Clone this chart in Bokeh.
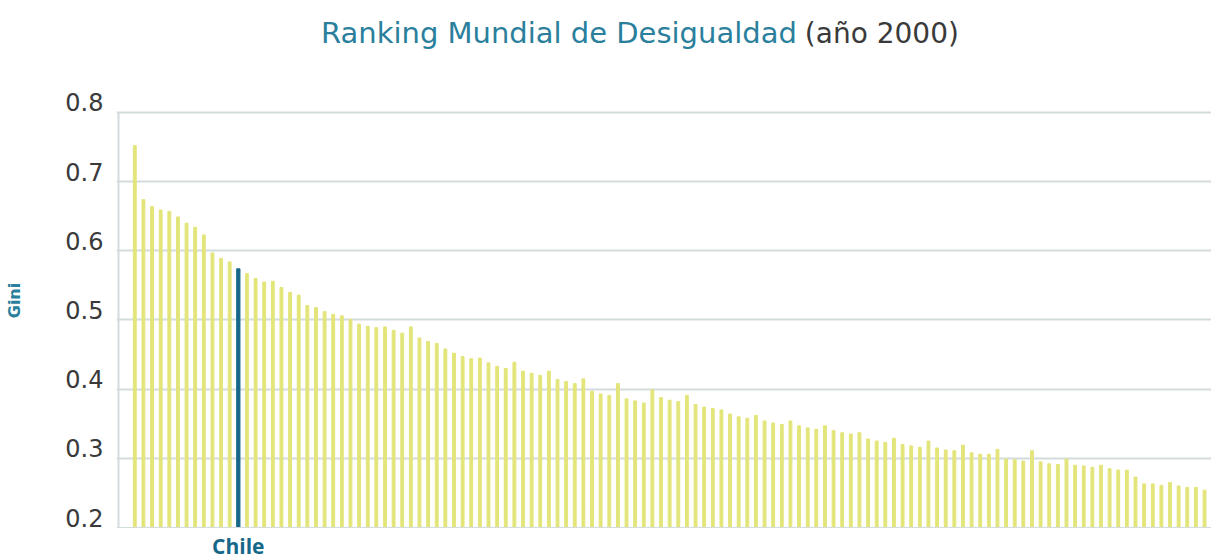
from bokeh.plotting import figure
from bokeh.models import Range1d, LinearAxis, FixedTicker, Div
from bokeh.layouts import column
from bokeh.embed import file_html
from bokeh.resources import INLINE

# ---- data ----
title_main = "Ranking Mundial de Desigualdad"
title_year = "(año 2000)"
y_axis_title = "Gini"
highlight_name = "Chile"
highlight_rank = 13

gini = [
    0.752, 0.674, 0.664, 0.659, 0.657, 0.649, 0.640, 0.634, 0.623, 0.597,
    0.589, 0.584, 0.574, 0.567, 0.560, 0.555, 0.556, 0.547, 0.540, 0.536,
    0.521, 0.518, 0.512, 0.508, 0.506, 0.501, 0.494, 0.491, 0.489, 0.490,
    0.485, 0.481, 0.490, 0.474, 0.469, 0.466, 0.458, 0.452, 0.447, 0.444,
    0.445, 0.438, 0.433, 0.430, 0.439, 0.426, 0.423, 0.420, 0.426, 0.414,
    0.411, 0.408, 0.415, 0.397, 0.393, 0.391, 0.408, 0.386, 0.383, 0.380,
    0.399, 0.388, 0.384, 0.382, 0.391, 0.378, 0.374, 0.372, 0.370, 0.364,
    0.360, 0.358, 0.362, 0.354, 0.351, 0.349, 0.354, 0.347, 0.344, 0.342,
    0.347, 0.340, 0.337, 0.335, 0.337, 0.328, 0.325, 0.323, 0.329, 0.320,
    0.318, 0.316, 0.325, 0.315, 0.312, 0.311, 0.319, 0.308, 0.306, 0.306,
    0.313, 0.299, 0.298, 0.296, 0.311, 0.295, 0.292, 0.291, 0.299, 0.290,
    0.289, 0.287, 0.290, 0.285, 0.283, 0.283, 0.273, 0.263, 0.263, 0.261,
    0.265, 0.260, 0.258, 0.258, 0.254,
]
y_ticks = [0.2, 0.3, 0.4, 0.5, 0.6, 0.7, 0.8]
y_tick_labels = ["0.2", "0.3", "0.4", "0.5", "0.6", "0.7", "0.8"]

# ---- styles ----
BAR = "#e3e57a"
HL = "#16688a"
TEAL = "#2a7f9c"
GRID = "#d3dcdc"
TXT = "#3a3a3a"

ranks = list(range(1, len(gini) + 1))
colors = [HL if r == highlight_rank else BAR for r in ranks]
widths = [0.38 if r == highlight_rank else 0.33 for r in ranks]

# geometry
PX_Y = 691.7          # pixels per Gini unit
LABEL_SHIFT = 10 / PX_Y
y_lo, y_hi = min(y_ticks), max(y_ticks) + 39 / PX_Y
x_lo, x_hi = -1.121, 125.81

title_div = Div(
    text=(f'<div style="margin-left:316px;margin-top:11px;line-height:34px;'
          f'white-space:nowrap;font-family:\'DejaVu Sans\';">'
          f'<span style="color:{TEAL};font-size:29px;">{title_main}</span>'
          f'<span style="color:{TXT};font-size:28px;margin-left:8px;">{title_year}</span></div>'),
    width=1211, height=60)

p = figure(width=1211, height=492, output_backend="svg", toolbar_location=None,
           x_range=Range1d(x_lo, x_hi), y_range=Range1d(y_lo, y_hi),
           min_border_left=116, min_border_right=0, min_border_top=3,
           min_border_bottom=31)
p.outline_line_color = None
p.background_fill_color = "white"
p.border_fill_color = "white"

# grid
p.yaxis.visible = False
p.ygrid.ticker = FixedTicker(ticks=y_ticks)
p.ygrid.grid_line_color = GRID
p.ygrid.grid_line_width = 2
p.xgrid.visible = False

# labelled y axis (labels sit a little above their grid lines, as in the original)
p.extra_y_ranges = {"lab": Range1d(y_lo - LABEL_SHIFT, y_hi - LABEL_SHIFT)}
ax = LinearAxis(y_range_name="lab", ticker=FixedTicker(ticks=y_ticks),
                major_label_overrides={t: s for t, s in zip(y_ticks, y_tick_labels)},
                axis_label=y_axis_title)
ax.axis_line_color = None
ax.major_tick_line_color = None
ax.minor_tick_line_color = None
ax.major_tick_out = 0
ax.major_tick_in = 0
ax.major_label_standoff = 13
ax.major_label_text_font = "DejaVu Sans"
ax.major_label_text_font_size = "24px"
ax.major_label_text_color = TXT
ax.axis_label_text_font = "DejaVu Sans"
ax.axis_label_text_font_style = "bold"
ax.axis_label_text_font_size = "16px"
ax.axis_label_text_color = TEAL
ax.axis_label_standoff = 38
p.add_layout(ax, "left")

# x axis carries only the highlighted country's name
p.xaxis.ticker = FixedTicker(ticks=[highlight_rank])
p.xaxis.major_label_overrides = {highlight_rank: highlight_name}
p.xaxis.major_tick_line_color = None
p.xaxis.minor_tick_line_color = None
p.xaxis.major_tick_out = 0
p.xaxis.major_tick_in = 0
p.xaxis.major_label_standoff = 4
p.xaxis.major_label_text_font = "Open Sans"
p.xaxis.major_label_text_font_style = "bold"
p.xaxis.major_label_text_font_size = "21px"
p.xaxis.major_label_text_color = HL
p.xaxis.axis_line_color = GRID
p.xaxis.axis_line_width = 1

# left frame line from the lowest to the highest tick
x_left_line = x_lo + 2 / 8.627
p.line(x=[x_left_line, x_left_line], y=[min(y_ticks), max(y_ticks)],
       line_color=GRID, line_width=2)

p.vbar(x=ranks, top=gini, bottom=min(y_ticks), width=widths, color=colors)

layout = column(title_div, p)
open("out.html", "w").write(file_html(layout, INLINE))
